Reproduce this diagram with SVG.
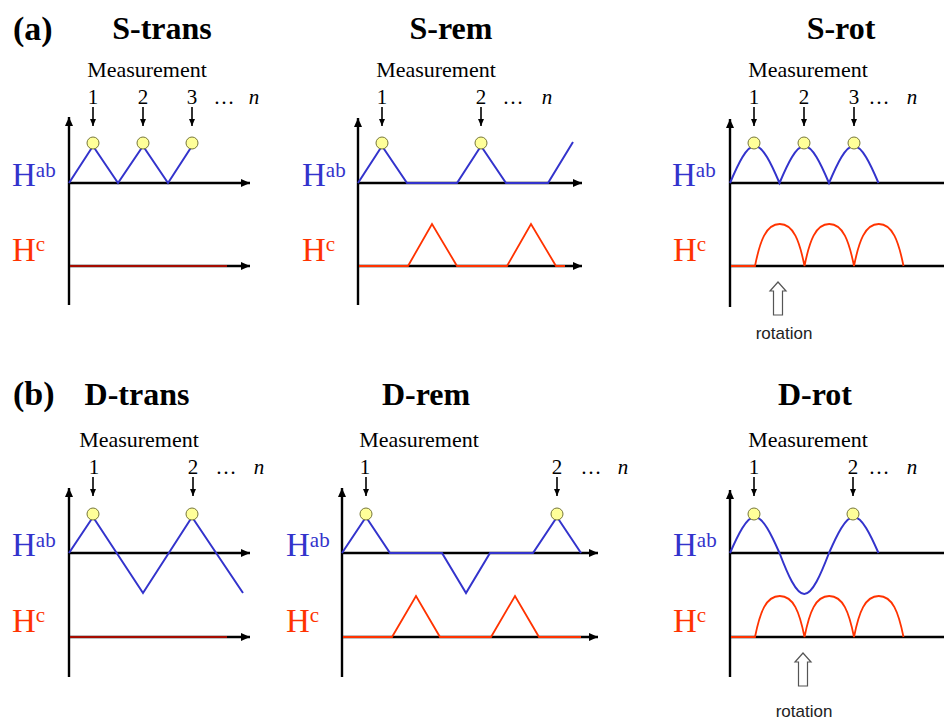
<svg xmlns="http://www.w3.org/2000/svg" width="944" height="722" viewBox="0 0 944 722">
<style>
text{font-family:"Liberation Serif","Times New Roman",serif;fill:#000}
.ttl{font-size:32px;font-weight:bold;text-anchor:middle}
.lab{font-size:34px;font-weight:bold}
.meas{font-size:22px;text-anchor:middle}
.num{font-size:21px;text-anchor:middle}
.it{font-size:21px;font-style:italic;text-anchor:middle}
.hab{font-size:33px;fill:#3333cc}
.hc{font-size:33px;fill:#ff3300}
.sup{font-size:21px}
.rot{font-family:"Liberation Sans",Arial,sans-serif;font-size:17px;text-anchor:middle;fill:#222}
.ax{stroke:#000;stroke-width:2.4;fill:none}
.axa{stroke:#000;stroke-width:2.4;fill:none;marker-end:url(#ah)}
.blue{stroke:#3333cc;stroke-width:2;fill:none;stroke-linejoin:miter}
.red{stroke:#ff3300;stroke-width:1.8;fill:none}
.redb{stroke:#dd1100;stroke-width:1.6;fill:none}
.dot{fill:#ffff99;stroke:#77773a;stroke-width:1}
.marr{stroke:#000;stroke-width:1.6;fill:none;marker-end:url(#sh)}
.hol{fill:#fff;stroke:#555;stroke-width:1.2}
</style>
<defs>
<marker id="ah" markerUnits="userSpaceOnUse" markerWidth="10" markerHeight="9" refX="9" refY="4" orient="auto"><path d="M0,0 L9,4 L0,8 z" fill="#000"/></marker>
<marker id="sh" markerUnits="userSpaceOnUse" markerWidth="8" markerHeight="7" refX="7" refY="3" orient="auto"><path d="M0,0 L7,3 L0,6 z" fill="#000"/></marker>
</defs>

<text class="lab" x="13" y="40">(a)</text>
<text class="lab" x="13" y="405">(b)</text>

<!-- S-trans -->
<g id="s-trans">
<text class="ttl" x="162" y="39">S-trans</text>
<text class="meas" x="147" y="77">Measurement</text>
<text class="num" x="93" y="104">1</text><text class="num" x="143" y="104">2</text><text class="num" x="192" y="104">3</text>
<text class="num" x="224" y="104">…</text><text class="it" x="254" y="104">n</text>
<text class="hab" x="12" y="186">H<tspan class="sup" dy="-9">ab</tspan></text>
<text class="hc" x="12" y="261">H<tspan class="sup" dy="-10">c</tspan></text>
<line class="axa" x1="69" y1="305" x2="69" y2="117"/>
<line class="axa" x1="69" y1="183" x2="250" y2="183"/>
<line class="axa" x1="69" y1="266" x2="250" y2="266"/>
<line class="redb" x1="70" y1="266" x2="227" y2="266"/>
<path class="blue" d="M69,183 L93,146 L118,183 L143,146 L168,183 L192,146"/>
<circle class="dot" cx="93" cy="143" r="6"/><circle class="dot" cx="143" cy="143" r="6"/><circle class="dot" cx="192" cy="143" r="6"/>
</g>

<!-- S-rem -->
<g id="s-rem">
<text class="ttl" x="451" y="39">S-rem</text>
<text class="meas" x="436" y="77">Measurement</text>
<text class="num" x="382" y="104">1</text><text class="num" x="481" y="104">2</text>
<text class="num" x="513" y="104">…</text><text class="it" x="547" y="104">n</text>
<text class="hab" x="302" y="186">H<tspan class="sup" dy="-9">ab</tspan></text>
<text class="hc" x="302" y="261">H<tspan class="sup" dy="-10">c</tspan></text>
<line class="axa" x1="358" y1="305" x2="358" y2="118"/>
<line class="axa" x1="358" y1="183" x2="582" y2="183"/>
<line class="axa" x1="358" y1="266" x2="582" y2="266"/>
<path class="blue" d="M358,183 L382,146 L407,183 L457,183 L481,146 L506,183 L548,183 L573,142"/>
<path class="red" d="M359,266 L408,266 L432,224 L457,266 L507,266 L531,224 L556,266 L565,266"/>
<circle class="dot" cx="382" cy="143" r="6"/><circle class="dot" cx="481" cy="143" r="6"/>
</g>

<!-- S-rot -->
<g id="s-rot">
<text class="ttl" x="841" y="39">S-rot</text>
<text class="meas" x="808" y="77">Measurement</text>
<text class="num" x="754" y="104">1</text><text class="num" x="804" y="104">2</text><text class="num" x="854" y="104">3</text>
<text class="num" x="879" y="104">…</text><text class="it" x="912" y="104">n</text>
<text class="hab" x="672" y="186">H<tspan class="sup" dy="-9">ab</tspan></text>
<text class="hc" x="673" y="261">H<tspan class="sup" dy="-10">c</tspan></text>
<line class="axa" x1="730" y1="307" x2="730" y2="119"/>
<line class="ax" x1="730" y1="183" x2="944" y2="183"/>
<line class="ax" x1="730" y1="266" x2="944" y2="266"/>
<path class="blue" d="M730,183 C738.25,163.6 746.5,146 754.75,146 C763,146 771.25,163.6 779.5,183 C787.75,163.6 796,146 804.25,146 C812.5,146 820.75,163.6 829,183 C837.25,163.6 845.5,146 853.75,146 C862,146 870.25,163.6 878.5,183"/>
<path class="red" d="M731,266 L755,266 C760,241 766,224 779.75,224 C793.5,224 799.5,241 804.5,266 C809.5,241 815.5,224 829.25,224 C843,224 849,241 854,266 C859,241 865,224 878.75,224 C892.5,224 898.5,241 903.5,266"/>
<circle class="dot" cx="754" cy="143" r="6"/><circle class="dot" cx="804" cy="143" r="6"/><circle class="dot" cx="854" cy="143" r="6"/>
<polygon class="hol" points="778,282 786,291 782.5,291 782.5,315 773.5,315 773.5,291 770,291"/>
<text class="rot" x="784" y="339">rotation</text>
</g>

<!-- D-trans -->
<g id="d-trans">
<text class="ttl" x="137" y="405">D-trans</text>
<text class="meas" x="139" y="447">Measurement</text>
<text class="num" x="94" y="474">1</text><text class="num" x="193" y="474">2</text>
<text class="num" x="226" y="474">…</text><text class="it" x="259" y="474">n</text>
<text class="hab" x="12" y="556">H<tspan class="sup" dy="-9">ab</tspan></text>
<text class="hc" x="12" y="632">H<tspan class="sup" dy="-10">c</tspan></text>
<line class="axa" x1="69" y1="677" x2="69" y2="488"/>
<line class="axa" x1="69" y1="553" x2="250" y2="553"/>
<line class="axa" x1="69" y1="637" x2="250" y2="637"/>
<line class="redb" x1="70" y1="637" x2="227" y2="637"/>
<path class="blue" d="M69,553 L93,517 L143,593 L192,517 L243,593"/>
<circle class="dot" cx="93" cy="514" r="6"/><circle class="dot" cx="192" cy="514" r="6"/>
</g>

<!-- D-rem -->
<g id="d-rem">
<text class="ttl" x="426" y="405">D-rem</text>
<text class="meas" x="419" y="447">Measurement</text>
<text class="num" x="365" y="474">1</text><text class="num" x="557" y="474">2</text>
<text class="num" x="591" y="474">…</text><text class="it" x="623" y="474">n</text>
<text class="hab" x="286" y="556">H<tspan class="sup" dy="-9">ab</tspan></text>
<text class="hc" x="286" y="632">H<tspan class="sup" dy="-10">c</tspan></text>
<line class="axa" x1="342" y1="677" x2="342" y2="488"/>
<line class="axa" x1="342" y1="553" x2="598" y2="553"/>
<line class="axa" x1="342" y1="637" x2="598" y2="637"/>
<path class="blue" d="M342,553 L366,517 L390,553 L442,553 L466,593 L490,553 L533,553 L557,517 L581,553"/>
<path class="red" d="M343,637 L392,637 L416,596 L440,637 L491,637 L515,596 L539,637 L581,637"/>
<circle class="dot" cx="366" cy="514" r="6"/><circle class="dot" cx="557" cy="514" r="6"/>
</g>

<!-- D-rot -->
<g id="d-rot">
<text class="ttl" x="815" y="405">D-rot</text>
<text class="meas" x="808" y="447">Measurement</text>
<text class="num" x="754" y="474">1</text><text class="num" x="853" y="474">2</text>
<text class="num" x="879" y="474">…</text><text class="it" x="912" y="474">n</text>
<text class="hab" x="673" y="556">H<tspan class="sup" dy="-9">ab</tspan></text>
<text class="hc" x="673" y="632">H<tspan class="sup" dy="-10">c</tspan></text>
<line class="axa" x1="730" y1="677" x2="730" y2="490"/>
<line class="ax" x1="730" y1="553" x2="944" y2="553"/>
<line class="ax" x1="730" y1="637" x2="944" y2="637"/>
<path class="blue" d="M730,553 C738.25,534.15 746.5,517 754.75,517 C763,517 771.25,534.15 779.5,553 C787.75,574.47 796,594 804.25,594 C812.5,594 820.75,574.47 829,553 C837.25,534.15 845.5,517 853.75,517 C862,517 870.25,534.15 878.5,553"/>
<path class="red" d="M731,637 L755,637 C760,612 766,596 779.75,596 C793.5,596 799.5,612 804.5,637 C809.5,612 815.5,596 829.25,596 C843,596 849,612 854,637 C859,612 865,596 878.75,596 C892.5,596 898.5,612 903.5,637"/>
<circle class="dot" cx="754" cy="514" r="6"/><circle class="dot" cx="853" cy="514" r="6"/>
<polygon class="hol" points="803,653 811,662 807.5,662 807.5,686 798.5,686 798.5,662 795,662"/>
<text class="rot" x="804" y="717">rotation</text>
</g>

<!-- measurement arrows -->
<g id="connectors">
<line class="marr" x1="93" y1="107" x2="93" y2="126"/>
<line class="marr" x1="143" y1="107" x2="143" y2="126"/>
<line class="marr" x1="192" y1="107" x2="192" y2="126"/>
<line class="marr" x1="382" y1="107" x2="382" y2="126"/>
<line class="marr" x1="481" y1="107" x2="481" y2="126"/>
<line class="marr" x1="754" y1="107" x2="754" y2="126"/>
<line class="marr" x1="804" y1="107" x2="804" y2="126"/>
<line class="marr" x1="854" y1="107" x2="854" y2="126"/>
<line class="marr" x1="93" y1="477" x2="93" y2="496"/>
<line class="marr" x1="193" y1="477" x2="193" y2="496"/>
<line class="marr" x1="366" y1="477" x2="366" y2="496"/>
<line class="marr" x1="557" y1="477" x2="557" y2="496"/>
<line class="marr" x1="754" y1="477" x2="754" y2="496"/>
<line class="marr" x1="853" y1="477" x2="853" y2="496"/>
</g>
</svg>
